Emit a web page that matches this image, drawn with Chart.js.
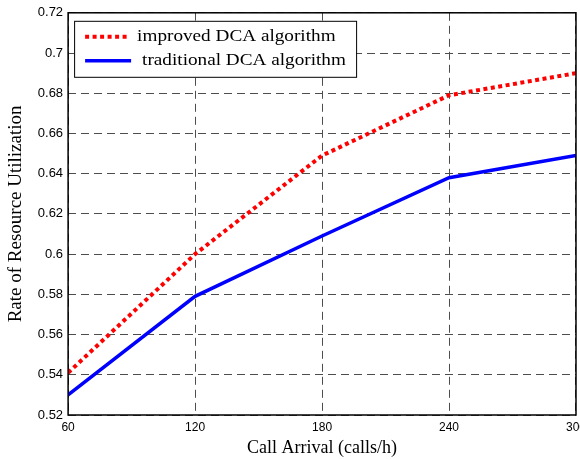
<!DOCTYPE html>
<html>
<head>
<meta charset="utf-8">
<script src="https://cdn.jsdelivr.net/npm/chart.js@4.4.1/dist/chart.umd.min.js"></script>
<style>
  html, body { margin: 0; padding: 0; background: #fff; overflow: hidden; }
  /* canvas slightly wider than the window so the last x label is cut like the original */
  #wrap { width: 591px; height: 459px; }
</style>
</head>
<body>
<div id="wrap"><canvas id="chart"></canvas></div>
<script>
// data
const callArrival = [60, 120, 180, 240, 300];
const improvedDCA = [0.541, 0.600, 0.649, 0.679, 0.690];
const traditionalDCA = [0.530, 0.579, 0.609, 0.638, 0.649];
const seriesNames = ['improved DCA algorithm', 'traditional DCA algorithm'];

const serif = '"Liberation Serif", "Times New Roman", serif';
const sans = '"Liberation Sans", Arial, sans-serif';

// box around the plot area (MATLAB style)
const frameBox = {
  id: 'frameBox',
  afterDatasetsDraw(chart) {
    const { ctx, chartArea: a } = chart;
    ctx.save();
    ctx.strokeStyle = '#000';
    ctx.lineWidth = 1.5;
    ctx.strokeRect(a.left, a.top, a.right - a.left, a.bottom - a.top);
    ctx.restore();
  }
};

// legend drawn inside the axes, top-left
const innerLegend = {
  id: 'innerLegend',
  afterDraw(chart) {
    const { ctx, chartArea: a } = chart;
    const x = a.left + 6, y = a.top + 8, w = 282, h = 56;
    ctx.save();
    ctx.fillStyle = '#fff';
    ctx.fillRect(x, y, w, h);
    ctx.strokeStyle = '#000';
    ctx.lineWidth = 1;
    ctx.strokeRect(x + 0.5, y + 0.5, w, h);
    ctx.font = '17px ' + serif;
    ctx.textBaseline = 'middle';
    chart.data.datasets.forEach((ds, i) => {
      const ly = y + 16 + i * 24;
      ctx.beginPath();
      ctx.strokeStyle = ds.borderColor;
      ctx.lineWidth = ds.borderWidth;
      ctx.setLineDash(ds.borderDash || []);
      ctx.moveTo(x + 11, ly);
      ctx.lineTo(x + (i === 0 ? 53 : 57), ly);
      ctx.stroke();
      ctx.setLineDash([]);
      ctx.fillStyle = '#000';
      // the original text is a little wider than the font, stretch it slightly
      ctx.save();
      ctx.translate(x + (i === 0 ? 63 : 68), ly);
      ctx.scale(1.13, 1);
      ctx.fillText(ds.label, 0, 0);
      ctx.restore();
    });
    ctx.restore();
  }
};

const gridStyle = {
  color: '#4d4d4d',
  lineWidth: 1,
  drawTicks: false
};

new Chart(document.getElementById('chart'), {
  type: 'line',
  data: {
    datasets: [
      {
        label: seriesNames[0],
        data: callArrival.map((x, i) => ({ x: x, y: improvedDCA[i] })),
        borderColor: '#ff0000',
        borderWidth: 4,
        borderDash: [4, 3.5],
        pointRadius: 0,
        tension: 0,
        fill: false
      },
      {
        label: seriesNames[1],
        data: callArrival.map((x, i) => ({ x: x, y: traditionalDCA[i] })),
        borderColor: '#0000ff',
        borderWidth: 3.5,
        pointRadius: 0,
        tension: 0,
        fill: false
      }
    ]
  },
  options: {
    responsive: true,
    maintainAspectRatio: false,
    animation: false,
    layout: { padding: { top: 3, left: 2, right: 0, bottom: 0 } },
    plugins: {
      legend: { display: false },
      tooltip: { enabled: false }
    },
    scales: {
      x: {
        type: 'linear',
        min: 60,
        max: 300,
        border: { display: false, dash: [8, 5] },
        grid: gridStyle,
        ticks: {
          stepSize: 60,
          padding: 5,
          maxRotation: 0,
          color: '#000',
          font: { family: sans, size: 12 }
        },
        title: {
          display: true,
          text: 'Call Arrival (calls/h)',
          color: '#000',
          font: { family: serif, size: 18 },
          padding: { top: -2, bottom: 0 }
        }
      },
      y: {
        min: 0.52,
        max: 0.72,
        border: { display: false, dash: [8, 5] },
        grid: gridStyle,
        ticks: {
          stepSize: 0.02,
          padding: 5,
          color: '#000',
          font: { family: sans, size: 13 },
          callback: v => String(Number(v.toFixed(2)))
        },
        title: {
          display: true,
          text: 'Rate of Resource Utilization',
          color: '#000',
          font: { family: serif, size: 19 },
          padding: { top: 3, bottom: 5 }
        }
      }
    }
  },
  plugins: [frameBox, innerLegend]
});
</script>
</body>
</html>
